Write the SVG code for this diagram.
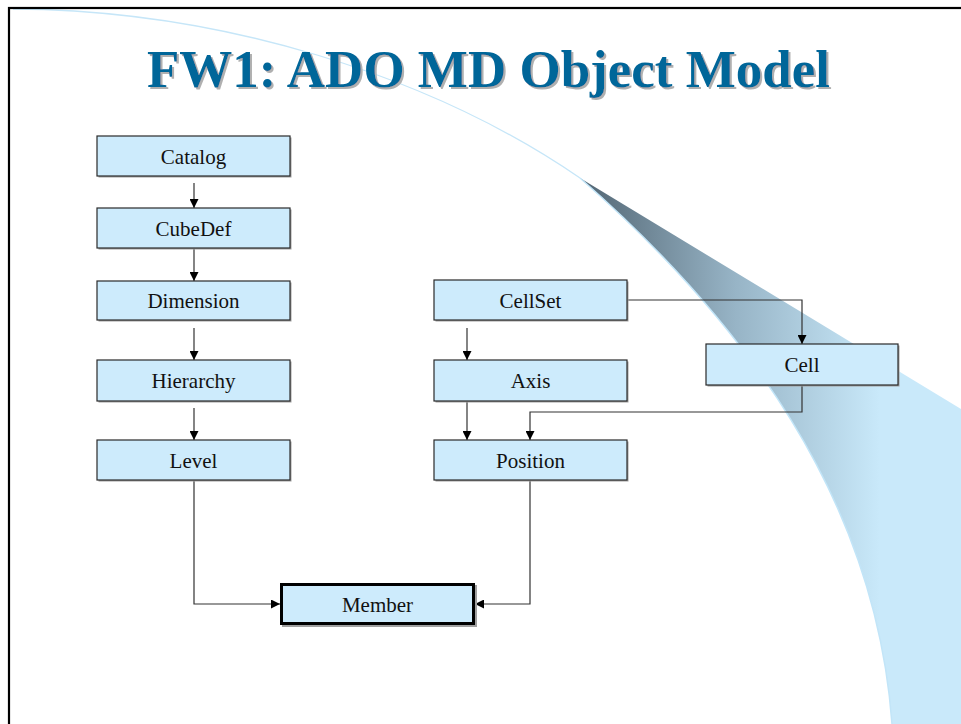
<svg xmlns="http://www.w3.org/2000/svg" width="961" height="724" viewBox="0 0 961 724">
  <style>
    .box { fill: #cdebfc; stroke: #2a2a2a; stroke-width: 1.2; }
    .shadow { fill: #a0a0a0; }
    .label { font-family: 'Liberation Serif', 'Times New Roman', serif; font-size: 21px; fill: #111; text-anchor: middle; }
    .title { font-family: 'Liberation Serif', 'Times New Roman', serif; font-size: 53px; font-weight: bold; text-anchor: middle; fill: #006699; }
    .conn { fill: none; stroke: #333; stroke-width: 1.2; marker-end: url(#arrow); }
  </style>
  <defs>
    <linearGradient id="swoosh" gradientUnits="userSpaceOnUse" x1="590" y1="0" x2="880" y2="0">
      <stop offset="0" stop-color="#566a78"/>
      <stop offset="0.5" stop-color="#97b4c6"/>
      <stop offset="1" stop-color="#c9e9fa"/>
    </linearGradient>
    <filter id="titleShadow" x="-5%" y="-20%" width="110%" height="140%">
      <feDropShadow dx="2" dy="2" stdDeviation="0.4" flood-color="#b0b0b0" flood-opacity="1"/>
    </filter>
    <marker id="arrow" viewBox="0 0 10 10" refX="10" refY="5" markerWidth="9" markerHeight="9" markerUnits="userSpaceOnUse" orient="auto">
      <path d="M0,0 L10,5 L0,10 z" fill="#000"/>
    </marker>
  </defs>

  <!-- slide background -->
  <rect x="0" y="0" width="961" height="724" fill="#fff"/>

  <!-- decorative swoosh -->
  <g id="swoosh-deco">
    <path d="M13,9 C220,10 430,75 580,178" fill="none" stroke="#c6e6f8" stroke-width="1.3"/>
    <path d="M580,178 L961,409 L961,724 L892,724 C880,560 805,375 580,178 Z" fill="url(#swoosh)"/>
    <path d="M892,724 C880,560 805,375 580,178" fill="none" stroke="#c2e5f8" stroke-width="1.5"/>
  </g>

  <!-- slide frame -->
  <rect x="9" y="8" width="960" height="730" fill="none" stroke="#000" stroke-width="2.2"/>

  <!-- title -->
  <g id="title">
    <text class="title" x="488.5" y="87" filter="url(#titleShadow)">FW1: ADO MD Object Model</text>
  </g>

  <!-- connectors -->
  <g id="connectors">
    <path class="conn" d="M194,183 V208"/>
    <path class="conn" d="M194,248 V281"/>
    <path class="conn" d="M194,328 V360"/>
    <path class="conn" d="M194,408 V440"/>
    <path class="conn" d="M467,328 V360"/>
    <path class="conn" d="M467,401 V440"/>
    <path class="conn" d="M627,300 H802 V344"/>
    <path class="conn" d="M802,385 V412 H530 V440"/>
    <path class="conn" d="M194,480 V604 H280"/>
    <path class="conn" d="M530,480 V604 H475"/>
  </g>

  <!-- nodes -->
  <g id="catalog">
    <rect class="shadow" x="98.5" y="137.5" width="193" height="40"/>
    <rect class="box" x="97" y="136" width="193" height="40"/>
    <text class="label" x="193.5" y="163.5">Catalog</text>
  </g>
  <g id="cubedef">
    <rect class="shadow" x="98.5" y="209.5" width="193" height="40"/>
    <rect class="box" x="97" y="208" width="193" height="40"/>
    <text class="label" x="193.5" y="235.5">CubeDef</text>
  </g>
  <g id="dimension">
    <rect class="shadow" x="98.5" y="282.5" width="193" height="39"/>
    <rect class="box" x="97" y="281" width="193" height="39"/>
    <text class="label" x="193.5" y="308">Dimension</text>
  </g>
  <g id="hierarchy">
    <rect class="shadow" x="98.5" y="361.5" width="193" height="41"/>
    <rect class="box" x="97" y="360" width="193" height="41"/>
    <text class="label" x="193.5" y="388">Hierarchy</text>
  </g>
  <g id="level">
    <rect class="shadow" x="98.5" y="441.5" width="193" height="40"/>
    <rect class="box" x="97" y="440" width="193" height="40"/>
    <text class="label" x="193.5" y="467.5">Level</text>
  </g>
  <g id="cellset">
    <rect class="shadow" x="435.5" y="281.5" width="193" height="40"/>
    <rect class="box" x="434" y="280" width="193" height="40"/>
    <text class="label" x="530.5" y="307.5">CellSet</text>
  </g>
  <g id="axis">
    <rect class="shadow" x="435.5" y="361.5" width="193" height="41"/>
    <rect class="box" x="434" y="360" width="193" height="41"/>
    <text class="label" x="530.5" y="388">Axis</text>
  </g>
  <g id="position">
    <rect class="shadow" x="435.5" y="441.5" width="193" height="40"/>
    <rect class="box" x="434" y="440" width="193" height="40"/>
    <text class="label" x="530.5" y="467.5">Position</text>
  </g>
  <g id="cell">
    <rect class="shadow" x="707.5" y="345.5" width="192" height="41"/>
    <rect class="box" x="706" y="344" width="192" height="41"/>
    <text class="label" x="802" y="372">Cell</text>
  </g>
  <g id="member">
    <rect class="shadow" x="282" y="585" width="195" height="42"/>
    <rect class="box" x="281.5" y="584.5" width="192" height="39" style="stroke:#000;stroke-width:3"/>
    <text class="label" x="377.5" y="612">Member</text>
  </g>
</svg>
